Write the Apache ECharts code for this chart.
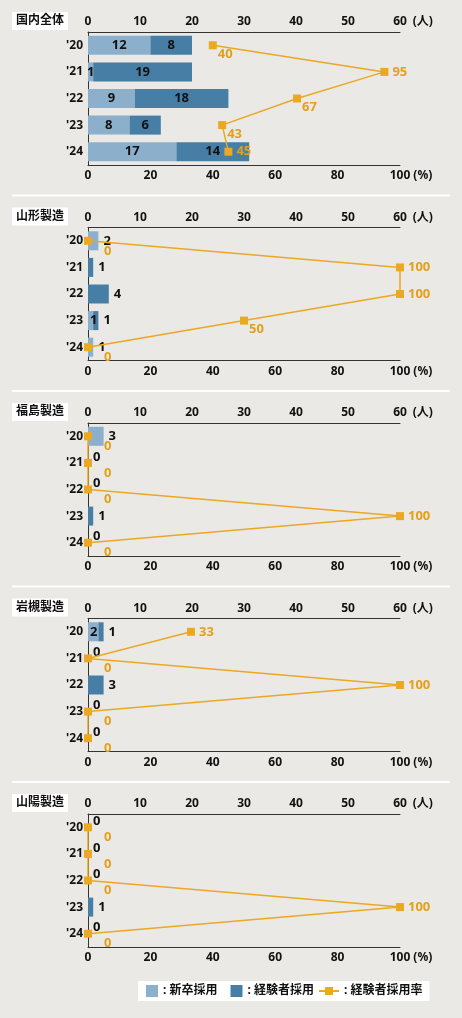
<!DOCTYPE html>
<html>
<head>
<meta charset="utf-8">
<script src="https://cdn.jsdelivr.net/npm/echarts@6/dist/echarts.min.js"></script>
<style>
html, body { margin: 0; padding: 0; background: #ebe9e5; }
#chart { width: 462px; height: 1018px; }
</style>
</head>
<body>
<div id="chart"></div>
<script>
// 年度と工場名
const years = ["'20", "'21", "'22", "'23", "'24"];
const plants = ['国内全体', '山形製造', '福島製造', '岩槻製造', '山陽製造'];

// 新卒採用（人）
const newZentai    = [12, 1, 9, 8, 17];
const newYamagata  = [2, 0, 0, 1, 1];
const newFukushima = [3, 0, 0, 0, 0];
const newIwatsuki  = [2, 0, 0, 0, 0];
const newSanyo     = [0, 0, 0, 0, 0];

// 経験者採用（人）
const expZentai    = [8, 19, 18, 6, 14];
const expYamagata  = [0, 1, 4, 1, 0];
const expFukushima = [0, 0, 0, 1, 0];
const expIwatsuki  = [1, 0, 3, 0, 0];
const expSanyo     = [0, 0, 0, 1, 0];

// 経験者採用率（%）
const rateZentai    = [40, 95, 67, 43, 45];
const rateYamagata  = [0, 100, 100, 50, 0];
const rateFukushima = [0, 0, 0, 100, 0];
const rateIwatsuki  = [33, 0, 100, 0, 0];
const rateSanyo     = [0, 0, 0, 100, 0];

// 目盛り
const personTicks = [0, 10, 20, 30, 40, 50, 60];
const pctTicks = [0, 20, 40, 60, 80, 100];

const newData = [newZentai, newYamagata, newFukushima, newIwatsuki, newSanyo];
const expData = [expZentai, expYamagata, expFukushima, expIwatsuki, expSanyo];
const rateData = [rateZentai, rateYamagata, rateFukushima, rateIwatsuki, rateSanyo];

const LIGHT = '#8cafcc';
const DARK = '#467ea5';
const ORANGE = '#eaa823';
const ORANGE_TXT = '#e3a01a';
const FONT = '"Noto Sans", "Noto Sans CJK JP", sans-serif';

const STEP = 195.5;
const chart = echarts.init(document.getElementById('chart'));

const grid = [], xAxis = [], yAxis = [], series = [], title = [], graphic = [];

plants.forEach(function (name, i) {
    const top = 32 + i * STEP;
    grid.push({ left: 88, width: 312, top: top, height: 133 });

    title.push({
        text: name, left: 12, top: 12 + i * STEP,
        backgroundColor: '#fff', padding: [3, 4],
        textStyle: { fontSize: 12, fontWeight: 'bold', color: '#111', fontFamily: FONT }
    });

    if (i > 0) {
        graphic.push({
            type: 'rect',
            shape: { x: 12, y: top - 33, width: 438, height: 2 },
            style: { fill: '#ffffff' }
        });
    }

    // 人数軸（上）
    xAxis.push({
        gridIndex: i, type: 'value', position: 'top',
        min: personTicks[0], max: personTicks[personTicks.length - 1], interval: 10,
        axisLine: { show: true, lineStyle: { color: '#333', width: 1 } },
        axisTick: { show: false }, splitLine: { show: false },
        axisLabel: {
            margin: 4, fontSize: 12, fontWeight: 'bold', color: '#111', fontFamily: FONT,
            formatter: function (v) {
                return v === 60 ? '{p|}{v|60}{u|(人)}' : String(v);
            },
            rich: {
                p: { width: 26 },
                v: { fontSize: 12, fontWeight: 'bold', color: '#111', fontFamily: FONT },
                u: { width: 26, align: 'right', fontSize: 12, fontWeight: 'bold', color: '#111', fontFamily: FONT }
            }
        }
    });
    // 率軸（下）
    xAxis.push({
        gridIndex: i, type: 'value', position: 'bottom',
        min: pctTicks[0], max: pctTicks[pctTicks.length - 1], interval: 20,
        axisLine: { show: true, lineStyle: { color: '#333', width: 1 } },
        axisTick: { show: false }, splitLine: { show: false },
        axisLabel: {
            margin: 5, fontSize: 12, fontWeight: 'bold', color: '#111', fontFamily: FONT,
            formatter: function (v) {
                return v === 100 ? '{p|}{v|100}{u|(%)}' : String(v);
            },
            rich: {
                p: { width: 22 },
                v: { fontSize: 12, fontWeight: 'bold', color: '#111', fontFamily: FONT },
                u: { width: 22, align: 'right', fontSize: 12, fontWeight: 'bold', color: '#111', fontFamily: FONT }
            }
        }
    });

    yAxis.push({
        gridIndex: i, type: 'category', data: years, inverse: true,
        axisLine: { show: true, lineStyle: { color: '#333', width: 1 } },
        axisTick: { show: false },
        axisLabel: { margin: 5, fontSize: 12, fontWeight: 'bold', color: '#111', fontFamily: FONT }
    });

    const nw = newData[i], ex = expData[i], rt = rateData[i];
    const barLabel = { fontSize: 13, fontWeight: 'bold', color: '#111', fontFamily: FONT };

    // 新卒ラベル
    const newItems = nw.map(function (v, k) {
        const total = v + ex[k];
        let label;
        if (v === 0) label = { show: false };
        else if (total >= 10) label = Object.assign({ show: true, position: 'inside' }, barLabel);
        else if (ex[k] > 0) label = Object.assign({ show: true, position: 'insideLeft', distance: 2 }, barLabel);
        else label = Object.assign({ show: true, position: 'right', distance: 5 }, barLabel);
        return { value: v, label: label };
    });
    // 経験者ラベル
    const expItems = ex.map(function (v, k) {
        const total = v + nw[k];
        let label;
        if (total === 0) label = Object.assign({ show: true, position: 'right', distance: 5, offset: [0, -6] }, barLabel);
        else if (v === 0) label = { show: false };
        else if (total >= 10) label = Object.assign({ show: true, position: 'inside' }, barLabel);
        else label = Object.assign({ show: true, position: 'right', distance: 5 }, barLabel);
        return { value: v, label: label };
    });
    // 率ラベル：両隣以上なら右、それ以外は右下
    const rateItems = rt.map(function (v, k) {
        const prev = k > 0 ? rt[k - 1] : -1;
        const next = k < rt.length - 1 ? rt[k + 1] : -1;
        let label;
        if (v > 0 && v >= prev && v >= next) label = { position: 'right', distance: 4, offset: [0, 0] };
        else if (v === 0) label = { position: 'right', distance: 2, offset: [10, 10] };
        else label = { position: 'right', distance: 1, offset: [0, 9] };
        return { value: v, label: label };
    });

    series.push({
        name: '新卒採用', type: 'bar', stack: 'p' + i,
        xAxisIndex: i * 2, yAxisIndex: i, barWidth: 19,
        itemStyle: { color: LIGHT }, data: newItems
    });
    series.push({
        name: '経験者採用', type: 'bar', stack: 'p' + i,
        xAxisIndex: i * 2, yAxisIndex: i, barWidth: 19,
        itemStyle: { color: DARK }, data: expItems
    });
    series.push({
        name: '経験者採用率', type: 'line',
        xAxisIndex: i * 2 + 1, yAxisIndex: i, z: 5,
        symbol: 'rect', symbolSize: 8,
        lineStyle: { color: ORANGE, width: 1.5 },
        itemStyle: { color: ORANGE },
        label: { show: true, fontSize: 13, fontWeight: 'bold', color: ORANGE_TXT, fontFamily: FONT },
        data: rateItems
    });
});

const legendText = { fontSize: 12, fontWeight: 'bold', color: '#111', fontFamily: FONT };

chart.setOption({
    backgroundColor: '#ebe9e5',
    animation: false,
    title: title,
    grid: grid,
    xAxis: xAxis,
    yAxis: yAxis,
    graphic: graphic,
    legend: {
        left: 138, top: 981,
        backgroundColor: '#fff', padding: [4, 7, 4, 0],
        itemWidth: 20, itemHeight: 12, itemGap: 5,
        textStyle: legendText,
        formatter: function (n) { return ': ' + n; },
        data: [
            { name: '新卒採用', icon: 'path://M0,0M20,12M8,0H20V12H8Z' },
            { name: '経験者採用', icon: 'path://M0,0M20,12M8,0H20V12H8Z',
              textStyle: Object.assign({ padding: [0, 8, 0, 0] }, legendText) },
            { name: '経験者採用率', icon: 'path://M0,0M20,12M0,5H6V2H14V5H20V7H14V10H6V7H0Z' }
        ]
    },
    series: series
});
</script>
</body>
</html>
